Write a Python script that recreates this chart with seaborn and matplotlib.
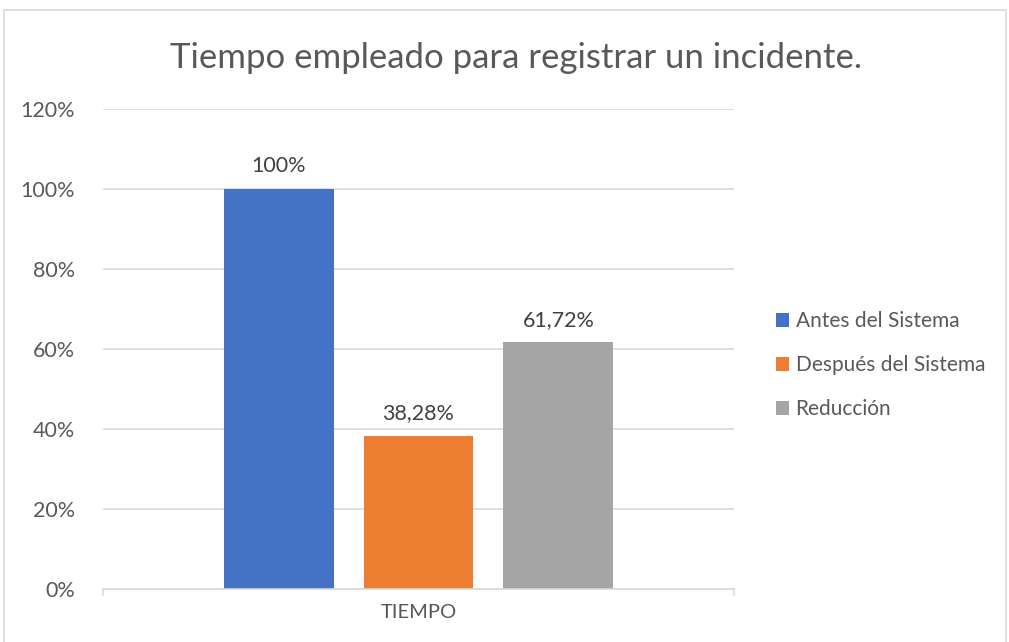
import matplotlib
matplotlib.use("Agg")
import matplotlib.pyplot as plt
import seaborn as sns
import pandas as pd
from matplotlib.patches import Rectangle, Patch

categories = ["TIEMPO"]
series = ["Antes del Sistema", "Después del Sistema", "Reducción"]
values = [100.0, 38.28, 61.72]
colors = ["#4472C4", "#ED7D31", "#A5A5A5"]
yticks = [0, 20, 40, 60, 80, 100, 120]
title = "Tiempo empleado para registrar un incidente."

df = pd.DataFrame({
    "categoria": categories * len(series),
    "serie": series,
    "valor": values,
})

sns.set_theme(style="white")
plt.rcParams["font.family"] = ["Lato", "DejaVu Sans"]

text_color = "#595959"
grid_color = "#D9D9D9"

fig = plt.figure(figsize=(10.09, 6.42), dpi=100)
fig.patch.set_facecolor("white")
fig.patches.append(Rectangle((4 / 1009, -0.01), 1002 / 1009, (642 - 10) / 642 + 0.01,
                             transform=fig.transFigure, fill=False,
                             edgecolor=grid_color, linewidth=1.2))

ax = fig.add_axes([103 / 1009, 53 / 642, 631 / 1009, 480 / 642])
sns.barplot(data=df, x="categoria", y="valor", hue="serie", hue_order=series,
            palette=colors, width=0.8, gap=30 / 140, saturation=1,
            linewidth=0, legend=False, ax=ax)

ax.set_xlim(-0.601, 0.601)
ax.set_ylim(0, 120)
ax.set_yticks(yticks)
ax.set_yticklabels([f"{t}%" for t in yticks])
ax.yaxis.grid(True, color=grid_color, linewidth=1.2)
ax.set_axisbelow(True)
for s in ["left", "right", "top"]:
    ax.spines[s].set_visible(False)
ax.spines["bottom"].set_color(grid_color)
ax.spines["bottom"].set_linewidth(1.2)
ax.tick_params(axis="y", length=0, pad=20, labelsize=15.5, labelcolor=text_color)
ax.tick_params(axis="x", length=0, pad=11, labelsize=14.5, labelcolor=text_color)
ax.set_xlabel("")
ax.set_ylabel("")

# small end ticks on the category axis
for xe in ax.get_xlim():
    ax.plot([xe, xe], [0, -1.6], color=grid_color, linewidth=1.2, clip_on=False)

def fmt(v):
    s = f"{v:.2f}".rstrip("0").rstrip(".")
    return s.replace(".", ",") + "%"

for bar, v in zip(ax.patches, values):
    ax.annotate(fmt(v), (bar.get_x() + bar.get_width() / 2, bar.get_height()),
                xytext=(0, 9), textcoords="offset points", ha="center",
                va="bottom", fontsize=15.5, color="#404040")

fig.text(516 / 1009, 1 - 58 / 642, title, ha="center", va="center",
         fontsize=25, color=text_color)

handles = [Patch(facecolor=c, edgecolor="none") for c in colors]
leg = fig.legend(handles, series, loc="center left",
                 bbox_to_anchor=(757 / 1009, 1 - 365 / 642), frameon=False,
                 fontsize=15, labelspacing=1.15, handlelength=0.65,
                 handleheight=0.65, handletextpad=0.3, labelcolor=text_color)

fig.savefig("out.png", dpi=100, facecolor="white")
